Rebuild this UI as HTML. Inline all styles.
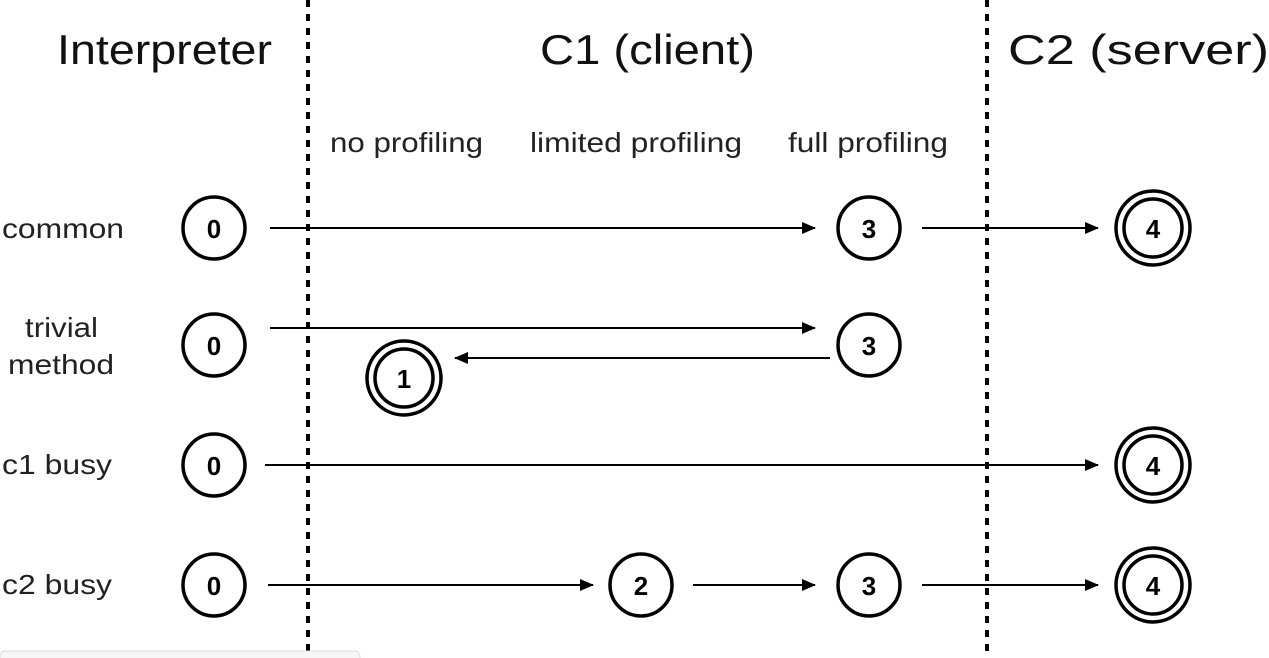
<!DOCTYPE html>
<html><head><style>body{margin:0;background:#fff}svg{display:block}</style></head><body>
<svg width="1269" height="658" viewBox="0 0 1269 658" xmlns="http://www.w3.org/2000/svg" font-family="Liberation Sans, sans-serif">
<defs><marker id="a" markerWidth="14" markerHeight="12" refX="13" refY="6" orient="auto" markerUnits="userSpaceOnUse"><path d="M0,0 L14,6 L0,12 Z" fill="#000"/></marker></defs>
<g stroke="#000" stroke-width="4" stroke-dasharray="7,7"><line x1="308" y1="0" x2="308" y2="658"/><line x1="987" y1="0" x2="987" y2="658"/></g>
<g font-size="42" fill="#111"><text x="57" y="64" textLength="215" lengthAdjust="spacingAndGlyphs">Interpreter</text><text x="540" y="64" textLength="215" lengthAdjust="spacingAndGlyphs">C1 (client)</text><text x="1008" y="64" textLength="261" lengthAdjust="spacingAndGlyphs">C2 (server)</text></g>
<g font-size="28" fill="#222"><text x="330" y="152" textLength="153" lengthAdjust="spacingAndGlyphs">no profiling</text><text x="530" y="152" textLength="212" lengthAdjust="spacingAndGlyphs">limited profiling</text><text x="788" y="152" textLength="160" lengthAdjust="spacingAndGlyphs">full profiling</text>
<text x="2" y="238" textLength="122" lengthAdjust="spacingAndGlyphs">common</text><text x="25" y="337" textLength="73" lengthAdjust="spacingAndGlyphs">trivial</text><text x="8" y="374" textLength="106" lengthAdjust="spacingAndGlyphs">method</text><text x="2" y="474" textLength="110" lengthAdjust="spacingAndGlyphs">c1 busy</text><text x="2" y="594" textLength="110" lengthAdjust="spacingAndGlyphs">c2 busy</text></g>
<g stroke="#000" stroke-width="2" marker-end="url(#a)">
<line x1="270" y1="228" x2="815" y2="228"/><line x1="922" y1="228" x2="1098" y2="228"/>
<line x1="270" y1="328" x2="815" y2="328"/><line x1="830" y1="358" x2="455" y2="358"/>
<line x1="265" y1="465" x2="1098" y2="465"/>
<line x1="268" y1="585" x2="593" y2="585"/><line x1="693" y1="585" x2="815" y2="585"/><line x1="922" y1="585" x2="1098" y2="585"/></g>
<g fill="none" stroke="#000" stroke-width="3.5">
<circle cx="214" cy="228" r="31"/><circle cx="214" cy="345" r="31"/><circle cx="214" cy="465" r="31"/><circle cx="214" cy="585" r="31"/>
<circle cx="869" cy="228" r="31"/><circle cx="869" cy="345" r="31"/><circle cx="869" cy="585" r="31"/><circle cx="641" cy="585" r="31"/>
<circle cx="1153" cy="228" r="37"/><circle cx="1153" cy="228" r="29"/><circle cx="1153" cy="465" r="37"/><circle cx="1153" cy="465" r="29"/><circle cx="1153" cy="585" r="37"/><circle cx="1153" cy="585" r="29"/>
<circle cx="404" cy="378" r="37"/><circle cx="404" cy="378" r="29"/></g>
<g font-size="26" font-weight="bold" text-anchor="middle">
<text x="214" y="238">0</text><text x="214" y="355">0</text><text x="214" y="475">0</text><text x="214" y="595">0</text>
<text x="869" y="238">3</text><text x="869" y="355">3</text><text x="869" y="595">3</text><text x="641" y="595">2</text>
<text x="1153" y="238">4</text><text x="1153" y="475">4</text><text x="1153" y="595">4</text><text x="404" y="388">1</text></g>
<rect x="0" y="651" width="360" height="12" rx="5" fill="#f6f6f6" stroke="#ddd"/>
</svg>
</body></html>
